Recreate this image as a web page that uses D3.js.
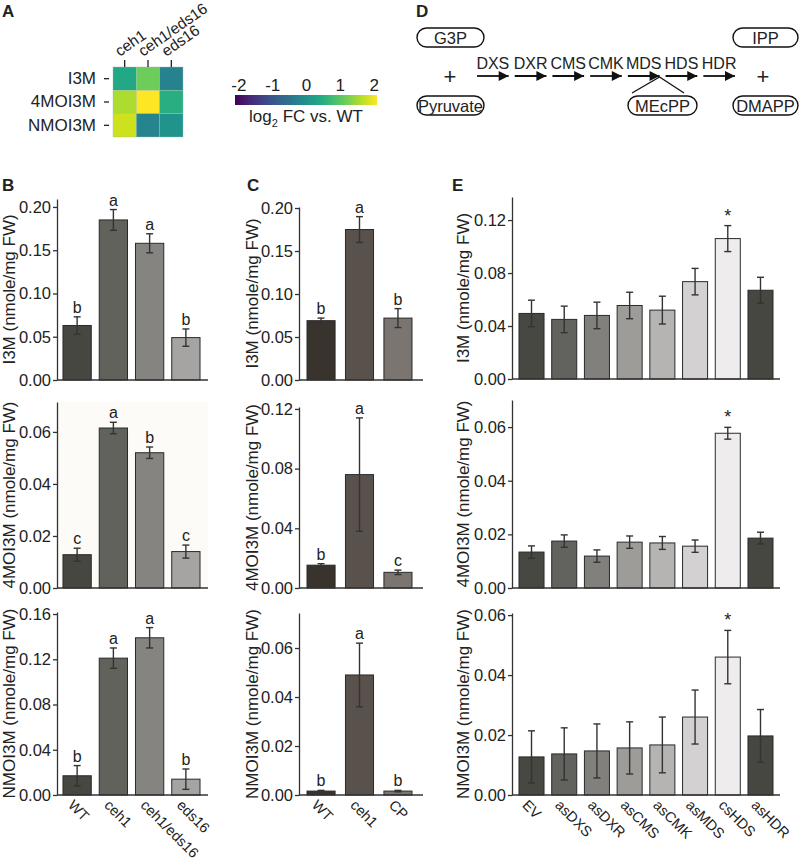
<!DOCTYPE html>
<html><head><meta charset="utf-8">
<script src="https://cdn.jsdelivr.net/npm/d3@7"></script>
<style>
body{margin:0;background:#fff;}
svg text{font-family:"Liberation Sans",Arial,sans-serif;fill:#222;}
</style></head>
<body>
<svg id="fig" width="800" height="861"></svg>
<script>
// ---------- DATA ----------
const heatGenotypes = ["ceh1", "ceh1/eds16", "eds16"];
const heatCompounds = ["I3M", "4MOI3M", "NMOI3M"];
const heatI3M = [0.4, 1.1, -0.25];
const heatMOI = [1.5, 2.0, 0.5];
const heatNMOI = [1.7, -0.2, 0.05];
const colorbarTicks = [-2, -1, 0, 1, 2];

const pathwayEnzymes = ["DXS", "DXR", "CMS", "CMK", "MDS", "HDS", "HDR"];
const pathwayInputs = ["G3P", "Pyruvate"];
const pathwayOutputs = ["IPP", "DMAPP"];
const pathwayBranch = "MEcPP";

const bGenotypes = ["WT", "ceh1", "ceh1/eds16", "eds16"];
const bI3M = [0.063, 0.185, 0.158, 0.049];
const bI3MErr = [0.010, 0.012, 0.011, 0.010];
const bI3MLetters = ["b", "a", "a", "b"];
const bMOI = [0.0128, 0.0615, 0.052, 0.014];
const bMOIErr = [0.0025, 0.0022, 0.0022, 0.0025];
const bMOILetters = ["c", "a", "b", "c"];
const bNMOI = [0.017, 0.121, 0.139, 0.014];
const bNMOIErr = [0.009, 0.009, 0.009, 0.009];
const bNMOILetters = ["b", "a", "a", "b"];

const cGenotypes = ["WT", "ceh1", "CP"];
const cI3M = [0.069, 0.175, 0.072];
const cI3MErr = [0.003, 0.015, 0.011];
const cI3MLetters = ["b", "a", "b"];
const cMOI = [0.0153, 0.076, 0.0105];
const cMOIErr = [0.001, 0.038, 0.0015];
const cMOILetters = ["b", "a", "c"];
const cNMOI = [0.0016, 0.049, 0.0016];
const cNMOIErr = [0.0003, 0.013, 0.0003];
const cNMOILetters = ["b", "a", "b"];

const eLines = ["EV", "asDXS", "asDXR", "asCMS", "asCMK", "asMDS", "csHDS", "asHDR"];
const eI3M = [0.0495, 0.045, 0.048, 0.0555, 0.052, 0.0735, 0.106, 0.067];
const eI3MErr = [0.010, 0.010, 0.010, 0.010, 0.0105, 0.010, 0.0098, 0.0098];
const eMOI = [0.0134, 0.0175, 0.0119, 0.0171, 0.0168, 0.0156, 0.0577, 0.0186];
const eMOIErr = [0.0023, 0.0023, 0.0023, 0.0023, 0.0024, 0.0023, 0.0022, 0.0022];
const eNMOI = [0.0127, 0.0137, 0.0147, 0.0157, 0.0167, 0.026, 0.046, 0.0197];
const eNMOIErr = [0.0087, 0.0087, 0.009, 0.0087, 0.0093, 0.009, 0.0089, 0.0088];
const eMarks = ["", "", "", "", "", "", "*", ""];

const ticksI3M = [0, 0.05, 0.10, 0.15, 0.20];
const ticksMOI_B = [0, 0.02, 0.04, 0.06];
const ticksNMOI_B = [0, 0.04, 0.08, 0.12, 0.16];
const ticksMOI_C = [0, 0.04, 0.08, 0.12];
const ticksNMOI_C = [0, 0.02, 0.04, 0.06];
const ticksI3M_E = [0, 0.04, 0.08, 0.12];
const ticksMOI_E = [0, 0.02, 0.04, 0.06];
const ticksNMOI_E = [0, 0.02, 0.04, 0.06];

// ---------- STYLE ----------
const colorsB = ["#464741", "#62625d", "#858480", "#a5a4a2"];
const colorsC = ["#39332e", "#59514c", "#7b7571"];
const colorsE = ["#474842", "#62625e", "#82807d", "#9d9c99", "#b5b4b2", "#d3d1d1", "#eeeced", "#464741"];
const ink = "#2a2a2a";

const svg = d3.select("#fig");

function panelLetter(t, x, y) {
  svg.append("text").attr("x", x).attr("y", y).attr("font-size", 17).attr("font-weight", "bold").text(t);
}

// ---------- BAR PANELS ----------
function barPanel(cfg) {
  const g = svg.append("g");
  const x = d3.scaleBand().domain(cfg.cats).range(cfg.xr).paddingInner(cfg.pi).paddingOuter(cfg.po);
  const y = d3.scaleLinear().domain([0, cfg.max]).range([cfg.base, cfg.top]);
  if (cfg.bg) {
    g.append("rect").attr("x", cfg.axisX).attr("y", cfg.top).attr("width", cfg.axisR - cfg.axisX)
      .attr("height", cfg.base - cfg.top).attr("fill", cfg.bg);
  }
  const data = cfg.cats.map((c, i) => ({c, v: cfg.vals[i], e: cfg.errs[i], l: cfg.labels[i], col: cfg.colors[i]}));
  g.selectAll("rect.bar").data(data).join("rect").attr("class", "bar")
    .attr("x", d => x(d.c)).attr("width", x.bandwidth())
    .attr("y", d => y(d.v)).attr("height", d => y(0) - y(d.v))
    .attr("fill", d => d.col).attr("stroke", ink).attr("stroke-width", 1);
  const cw = 3.5;
  const eb = g.selectAll("g.err").data(data).join("g").attr("class", "err")
    .attr("stroke", "#333").attr("stroke-width", 1.4);
  eb.append("line").attr("x1", d => x(d.c) + x.bandwidth() / 2).attr("x2", d => x(d.c) + x.bandwidth() / 2)
    .attr("y1", d => y(d.v - d.e)).attr("y2", d => y(d.v + d.e));
  eb.append("line").attr("x1", d => x(d.c) + x.bandwidth() / 2 - cw).attr("x2", d => x(d.c) + x.bandwidth() / 2 + cw)
    .attr("y1", d => y(d.v + d.e)).attr("y2", d => y(d.v + d.e));
  eb.append("line").attr("x1", d => x(d.c) + x.bandwidth() / 2 - cw).attr("x2", d => x(d.c) + x.bandwidth() / 2 + cw)
    .attr("y1", d => y(d.v - d.e)).attr("y2", d => y(d.v - d.e));
  g.selectAll("text.lbl").data(data).join("text").attr("class", "lbl")
    .attr("x", d => x(d.c) + x.bandwidth() / 2).attr("y", d => y(d.v + d.e) - 4)
    .attr("text-anchor", "middle").attr("font-size", cfg.labelSize || 16).text(d => d.l);
  // y axis
  const ax = g.append("g").attr("transform", `translate(${cfg.axisX},0)`)
    .call(d3.axisLeft(y).tickValues(cfg.ticks).tickFormat(d3.format(".2f")).tickSize(4).tickPadding(2).tickSizeOuter(0));
  ax.selectAll("text").attr("font-size", 16.5).attr("fill", "#222");
  ax.selectAll("line,path").attr("stroke", "#333").attr("stroke-width", 1.3);
  // x axis
  const bx = g.append("g").attr("transform", `translate(0,${cfg.base})`)
    .call(d3.axisBottom(x).tickSize(0).tickFormat(""));
  bx.select(".domain").attr("d", `M${cfg.axisX},0H${cfg.axisR}`).attr("stroke", "#333").attr("stroke-width", 1.3);
  if (cfg.xlabels) {
    g.selectAll("text.xl").data(cfg.cats).join("text").attr("class", "xl")
      .attr("transform", d => `translate(${x(d) + x.bandwidth() / 2 - 10},${cfg.base + 11}) rotate(45)`)
      .attr("font-size", 14.5)
      .text(d => d);
  }
  g.append("text").attr("transform", `translate(${cfg.ylx},${(cfg.top + cfg.base) / 2}) rotate(-90)`)
    .attr("text-anchor", "middle").attr("font-size", 17).text(cfg.ylabel);
}

// Panel B
const bBand = {xr: [59, 204], pi: 0.22, po: 0.11, axisX: 57, axisR: 208};
barPanel({...bBand, cats: bGenotypes, vals: bI3M, errs: bI3MErr, labels: bI3MLetters, colors: colorsB,
  base: 380, top: 199, max: 0.2092, ticks: ticksI3M, ylabel: "I3M (nmole/mg FW)", ylx: 15});
barPanel({...bBand, cats: bGenotypes, vals: bMOI, errs: bMOIErr, labels: bMOILetters, colors: colorsB,
  base: 588, top: 402, max: 0.0715, ticks: ticksMOI_B, ylabel: "4MOI3M (nmole/mg FW)", ylx: 15, bg: "#fcfbf8"});
barPanel({...bBand, cats: bGenotypes, vals: bNMOI, errs: bNMOIErr, labels: bNMOILetters, colors: colorsB,
  base: 795, top: 612, max: 0.1618, ticks: ticksNMOI_B, ylabel: "NMOI3M (nmole/mg FW)", ylx: 15, xlabels: true});

// Panel C
const cBand = {xr: [302, 417], pi: 0.27, po: 0.13, axisX: 299, axisR: 423};
barPanel({...cBand, cats: cGenotypes, vals: cI3M, errs: cI3MErr, labels: cI3MLetters, colors: colorsC,
  base: 380, top: 207, max: 0.2012, ticks: ticksI3M, ylabel: "I3M (nmole/mg FW)", ylx: 258});
barPanel({...cBand, cats: cGenotypes, vals: cMOI, errs: cMOIErr, labels: cMOILetters, colors: colorsC,
  base: 588, top: 407, max: 0.1213, ticks: ticksMOI_C, ylabel: "4MOI3M (nmole/mg FW)", ylx: 258});
barPanel({...cBand, cats: cGenotypes, vals: cNMOI, errs: cNMOIErr, labels: cNMOILetters, colors: colorsC,
  base: 795, top: 613, max: 0.0743, ticks: ticksNMOI_C, ylabel: "NMOI3M (nmole/mg FW)", ylx: 258, xlabels: true});

// Panel E
const eBand = {xr: [513.5, 778.5], pi: 0.235, po: 0.168, axisX: 512, axisR: 780, labelSize: 18};
barPanel({...eBand, cats: eLines, vals: eI3M, errs: eI3MErr, labels: eMarks, colors: colorsE,
  base: 379, top: 197, max: 0.1374, ticks: ticksI3M_E, ylabel: "I3M (nmole/mg FW)", ylx: 469});
barPanel({...eBand, cats: eLines, vals: eMOI, errs: eMOIErr, labels: eMarks, colors: colorsE,
  base: 588, top: 400, max: 0.0701, ticks: ticksMOI_E, ylabel: "4MOI3M (nmole/mg FW)", ylx: 469});
barPanel({...eBand, cats: eLines, vals: eNMOI, errs: eNMOIErr, labels: eMarks, colors: colorsE,
  base: 795, top: 613, max: 0.0607, ticks: ticksNMOI_E, ylabel: "NMOI3M (nmole/mg FW)", ylx: 469, xlabels: true});

// ---------- PANEL A: HEATMAP ----------
const heatVals = [heatI3M, heatMOI, heatNMOI];
const hx = d3.scaleBand().domain(heatGenotypes).range([113, 183]);
const hy = d3.scaleBand().domain(heatCompounds).range([67, 137]);
const hc = d3.scaleSequential(d3.interpolateViridis).domain([-2, 2]);
const cells = [];
heatCompounds.forEach((r, i) => heatGenotypes.forEach((c, j) => cells.push({r, c, v: heatVals[i][j]})));
svg.append("g").selectAll("rect").data(cells).join("rect")
  .attr("x", d => hx(d.c)).attr("y", d => hy(d.r)).attr("width", hx.bandwidth()).attr("height", hy.bandwidth())
  .attr("fill", d => hc(d.v)).attr("stroke", "#9fbfa8").attr("stroke-width", 0.4);
const hay = svg.append("g").attr("transform", "translate(109,0)")
  .call(d3.axisLeft(hy).tickSize(5).tickPadding(8));
hay.select(".domain").remove();
hay.selectAll("line").attr("stroke", "#222").attr("stroke-width", 1.3);
hay.selectAll("text").attr("font-size", 17).attr("fill", "#222");
const hax = svg.append("g").attr("transform", "translate(0,67)")
  .call(d3.axisTop(hx).tickSize(7).tickFormat(""));
hax.select(".domain").remove();
hax.selectAll("line").attr("stroke", "#222").attr("stroke-width", 1.3);
svg.append("g").selectAll("text").data(heatGenotypes).join("text")
  .attr("transform", d => `translate(${hx(d) + hx.bandwidth() / 2 - 5},57) rotate(-35)`)
  .attr("font-size", 15.5).text(d => d);

// colorbar
const cbScale = d3.scaleLinear().domain([-2.1, 2.1]).range([235, 377]);
const defs = svg.append("defs");
const grad = defs.append("linearGradient").attr("id", "vir");
d3.range(0, 1.0001, 0.1).forEach(t => grad.append("stop").attr("offset", t).attr("stop-color", d3.interpolateViridis(t)));
svg.append("rect").attr("x", 235).attr("y", 95).attr("width", 142).attr("height", 10).attr("fill", "url(#vir)");
const cba = svg.append("g").attr("transform", "translate(0,91)")
  .call(d3.axisTop(cbScale).tickValues(colorbarTicks).tickSize(0).tickPadding(0).tickFormat(d => String(d)));
cba.select(".domain").remove();
cba.selectAll("text").attr("font-size", 17).attr("fill", "#222");
const lg = svg.append("text").attr("x", 306).attr("y", 122).attr("text-anchor", "middle").attr("font-size", 17);
lg.append("tspan").text("log");
lg.append("tspan").attr("font-size", 11).attr("dy", 5).text("2");
lg.append("tspan").attr("dy", -5).text(" FC vs. WT");

// ---------- PANEL D: PATHWAY ----------
const arrowY = 76;
const ex = d3.scaleBand().domain(pathwayEnzymes).range([477, 735]).paddingInner(0.16);
defs.append("marker").attr("id", "ah").attr("viewBox", "0 0 10 10").attr("refX", 10).attr("refY", 5)
  .attr("markerWidth", 12).attr("markerHeight", 10).attr("markerUnits", "userSpaceOnUse").attr("orient", "auto")
  .append("path").attr("d", "M0,0L10,5L0,10Z").attr("fill", "#111");
const pg = svg.append("g");
pg.selectAll("line.ar").data(pathwayEnzymes).join("line").attr("class", "ar")
  .attr("x1", d => ex(d)).attr("x2", d => ex(d) + ex.bandwidth()).attr("y1", arrowY).attr("y2", arrowY)
  .attr("stroke", "#111").attr("stroke-width", 1.8).attr("marker-end", "url(#ah)");
pg.selectAll("text.en").data(pathwayEnzymes).join("text").attr("class", "en")
  .attr("x", d => ex(d) + ex.bandwidth() / 2).attr("y", 69).attr("text-anchor", "middle").attr("font-size", 16).text(d => d);
function pill(label, x0, x1, y0, y1) {
  pg.append("rect").attr("x", x0).attr("y", y0).attr("width", x1 - x0).attr("height", y1 - y0)
    .attr("rx", (y1 - y0) / 2).attr("fill", "#fff").attr("stroke", "#111").attr("stroke-width", 1.4);
  pg.append("text").attr("x", (x0 + x1) / 2).attr("y", (y0 + y1) / 2 + 6).attr("text-anchor", "middle")
    .attr("font-size", 16.5).text(label);
}
pill(pathwayInputs[0], 417, 484, 28, 47);
pill(pathwayInputs[1], 417, 484, 96, 115);
pill(pathwayOutputs[0], 733, 798, 28, 47);
pill(pathwayOutputs[1], 733, 798, 96, 115);
const mdsEnd = ex("MDS") + ex.bandwidth();
pg.append("path").attr("d", `M632,93L${mdsEnd},${arrowY + 1}L684,93`).attr("fill", "none").attr("stroke", "#111").attr("stroke-width", 1.3);
pill(pathwayBranch, 628, 697, 96, 115);
pg.append("text").attr("x", 450).attr("y", 84).attr("text-anchor", "middle").attr("font-size", 22).text("+");
pg.append("text").attr("x", 763).attr("y", 84).attr("text-anchor", "middle").attr("font-size", 22).text("+");

// panel letters
panelLetter("A", 2, 17);
panelLetter("D", 416, 17);
panelLetter("B", 2, 191);
panelLetter("C", 247, 191);
panelLetter("E", 452, 191);
</script>
</body></html>
